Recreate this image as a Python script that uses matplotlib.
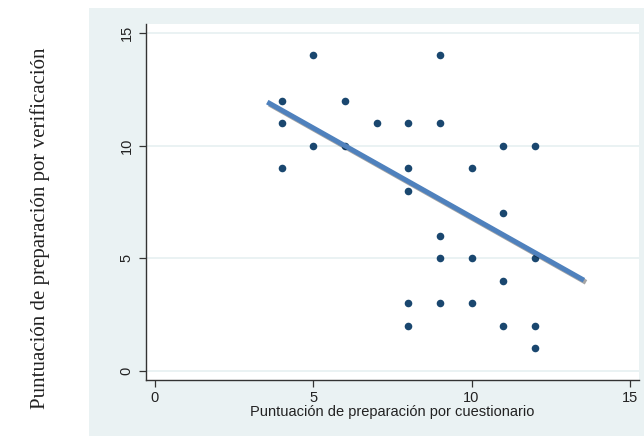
import numpy as np
import matplotlib
matplotlib.use("Agg")
import matplotlib.pyplot as plt
import matplotlib.patheffects as pe
from matplotlib.patches import Rectangle

# Scatter data
cuestionario = [4, 4, 4, 5, 5, 6, 6, 7, 8, 8, 8, 8, 8, 9, 9, 9, 9, 9,
                10, 10, 10, 11, 11, 11, 11, 12, 12, 12, 12]
verificacion = [12, 11, 9, 14, 10, 12, 10, 11, 11, 9, 8, 3, 2, 14, 11, 6, 5, 3,
                9, 5, 3, 10, 7, 4, 2, 10, 5, 2, 1]

# drawn trend line (end points as seen in the picture)
trend_x = [3.55, 13.55]
trend_y = [11.93, 4.02]

ticks = [0, 5, 10, 15]
xlabel = "Puntuación de preparación por cuestionario"
ylabel = "Puntuación de preparación por verificación"

BG = "#EAF2F3"
NAVY = "#1A476F"
BLUE = "#4F81BD"

fig = plt.figure(figsize=(6.44, 4.36), dpi=100)
fig.patch.set_facecolor("white")

# the light graph region behind the plot
fig.patches.append(Rectangle((89/644, 0), 1 - 89/644, 1 - 8/436,
                             transform=fig.transFigure, facecolor=BG,
                             edgecolor="none", zorder=-5))

ax = fig.add_axes([146/644, 56/436, (638.7 - 146)/644, (380 - 23.7)/436])
ax.set_facecolor("white")
ax.set_zorder(2)

ax.scatter(cuestionario, verificacion, s=30, color=NAVY, zorder=3, linewidths=0)

ax.plot(trend_x, trend_y, color=BLUE, lw=3.6, solid_capstyle="butt", zorder=4,
        path_effects=[pe.SimpleLineShadow(offset=(1.5, -1.5), shadow_color="black", alpha=0.35),
                      pe.Normal()])

ax.set_xlim(-0.28, 15.28)
ax.set_ylim(-0.41, 15.41)
ax.set_xticks(ticks)
ax.set_yticks(ticks)
ax.set_yticklabels([str(t) for t in ticks], rotation=90, va="center")
for t in ticks:
    ax.axhline(t, color=BG, lw=1.4, zorder=1)

for s in ["top", "right"]:
    ax.spines[s].set_visible(False)
for s in ["left", "bottom"]:
    ax.spines[s].set_color("#333333")
    ax.spines[s].set_linewidth(1.0)

ax.tick_params(axis="both", direction="out", length=5, width=0.9, color="#333333",
               labelsize=10.5, labelcolor="#222222")
ax.tick_params(axis="y", pad=4)
ax.tick_params(axis="x", pad=3)
for lab in ax.get_xticklabels() + ax.get_yticklabels():
    lab.set_family(["Liberation Sans", "DejaVu Sans"])

ax.set_xlabel(xlabel, family=["Liberation Sans", "DejaVu Sans"], fontsize=10.5,
              color="#222222", labelpad=0)

fig.text(40/644, 0.5 + (436/2 - 228)/436, ylabel, rotation=90, ha="center", va="center",
         family=["Liberation Serif", "DejaVu Serif"], fontsize=15, color="#222222")

fig.savefig("out.png", dpi=100)
